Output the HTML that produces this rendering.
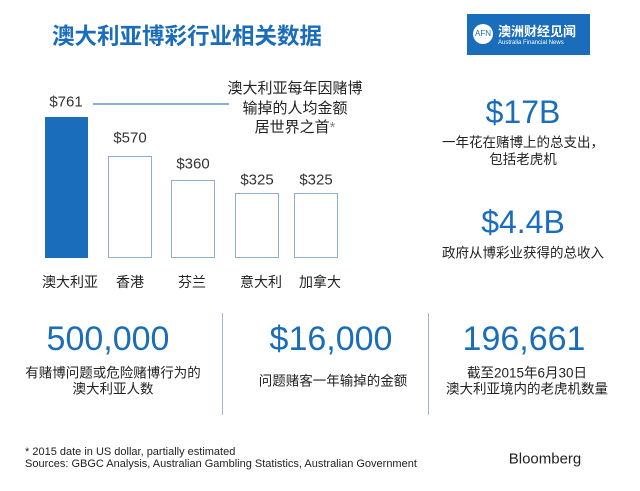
<!DOCTYPE html>
<html><head><meta charset="utf-8"><style>
body{margin:0;width:640px;height:491px;background:#fff;position:relative;overflow:hidden;font-family:"Liberation Sans","Noto Sans CJK SC",sans-serif;color:#222}
.a{position:absolute;white-space:nowrap}
.c{text-align:center;transform:translate(-50%,-50%)}
.blue{color:#1a6dbb}
.bar{position:absolute;border:1.5px solid #8aaed6;background:#fff;box-sizing:border-box}
.big{font-size:34px;color:#1a6dbb;line-height:1}
.sub{font-size:13.5px;line-height:15.5px;color:#222}
.v{font-size:15px;color:#333;line-height:1}
.cat{font-size:14px;color:#222;line-height:1}
</style></head><body>
<div class="a blue c" style="left:187px;top:37px;font-size:22.5px;font-weight:bold;line-height:1">澳大利亚博彩行业相关数据</div>
<div class="a" style="left:467px;top:14px;width:123px;height:41px;background:#1a6dbb"></div>
<div class="a" style="left:473px;top:24px;width:20px;height:20px;border-radius:50%;background:#fff;color:#1a6dbb;font-size:8px;line-height:20px;text-align:center">AFN</div>
<div class="a" style="left:498px;top:21px;font-size:13px;color:#fff;font-weight:bold">澳洲财经见闻</div>
<div class="a" style="left:498px;top:40px;font-size:6px;color:#fff">Australia Financial News</div>

<div class="a" style="left:45px;top:117px;width:43px;height:141px;background:#1a6dbb"></div>
<div class="bar" style="left:108px;top:156px;width:44px;height:102px"></div>
<div class="bar" style="left:171px;top:180px;width:44px;height:78px"></div>
<div class="bar" style="left:235px;top:193px;width:44px;height:65px"></div>
<div class="bar" style="left:294px;top:193px;width:44px;height:65px"></div>
<div class="a v c" style="left:66px;top:102px">$761</div>
<div class="a v c" style="left:130px;top:138px">$570</div>
<div class="a v c" style="left:193px;top:164px">$360</div>
<div class="a v c" style="left:257px;top:180px">$325</div>
<div class="a v c" style="left:316px;top:180px">$325</div>
<div class="a" style="left:93px;top:103px;width:136px;height:1.5px;background:#8aaed6"></div>
<div class="a c" style="left:295px;top:108px;font-size:15px;line-height:19.5px;text-align:center">澳大利亚每年因赌博<br>输掉的人均金额<br>居世界之首<span style="color:#888">*</span></div>
<div class="a cat c" style="left:70px;top:282px">澳大利亚</div>
<div class="a cat c" style="left:130px;top:282px">香港</div>
<div class="a cat c" style="left:192px;top:282px">芬兰</div>
<div class="a cat c" style="left:261px;top:282px">意大利</div>
<div class="a cat c" style="left:320px;top:282px">加拿大</div>

<div class="a c big" style="left:523px;top:112px;font-size:32px">$17B</div>
<div class="a c sub" style="left:523px;top:151px;text-align:center;line-height:17px">一年花在赌博上的总支出，<br>包括老虎机</div>
<div class="a c big" style="left:523px;top:222px;font-size:32px">$4.4B</div>
<div class="a c sub" style="left:523px;top:253px">政府从博彩业获得的总收入</div>

<div class="a" style="left:222px;top:313px;width:1px;height:102px;background:#9bb8d8"></div>
<div class="a" style="left:428px;top:313px;width:1px;height:102px;background:#9bb8d8"></div>
<div class="a c big" style="left:108px;top:339px">500,000</div>
<div class="a c sub" style="left:113px;top:381px;text-align:center">有赌博问题或危险赌博行为的<br>澳大利亚人数</div>
<div class="a c big" style="left:331px;top:339px">$16,000</div>
<div class="a c sub" style="left:333px;top:381px">问题赌客一年输掉的金额</div>
<div class="a c big" style="left:524px;top:339px">196,661</div>
<div class="a c sub" style="left:527px;top:381px;text-align:center">截至2015年6月30日<br>澳大利亚境内的老虎机数量</div>

<div class="a" style="left:25px;top:447px;font-size:11px;line-height:11.5px;color:#222">* 2015 date in US dollar, partially estimated<br>Sources: GBGC Analysis, Australian Gambling Statistics, Australian Government</div>
<div class="a c" style="left:545px;top:459px;font-size:15px;color:#222;line-height:1">Bloomberg</div>
</body></html>
